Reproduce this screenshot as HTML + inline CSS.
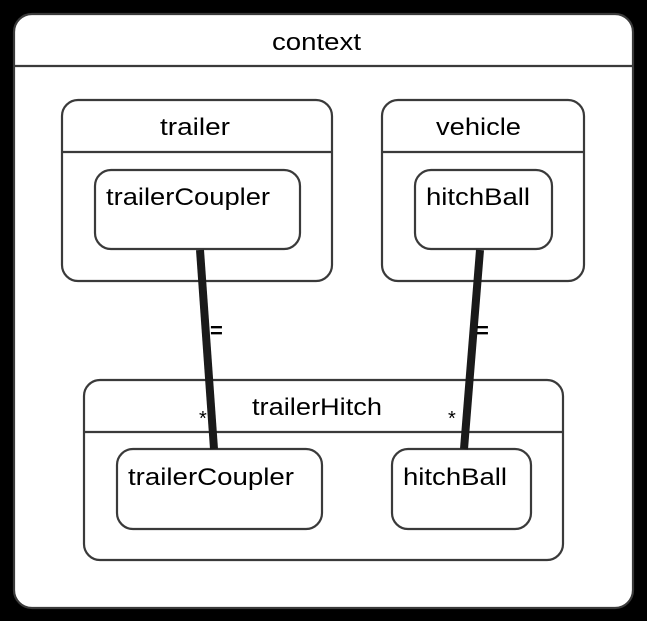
<!DOCTYPE html>
<html><head><meta charset="utf-8"><style>
html,body{margin:0;padding:0;background:#000;}
svg{display:block;}
text{font-family:"Liberation Sans",Arial,sans-serif;fill:#000;}
</style></head><body>
<svg width="647" height="621" viewBox="0 0 647 621" xmlns="http://www.w3.org/2000/svg">
<rect x="0" y="0" width="647" height="621" fill="#000"/>
<g fill="#fff" stroke="#3a3a3a" stroke-width="2.2">
<rect x="14" y="14" width="619" height="594" rx="18"/>
<line x1="14" y1="66" x2="633" y2="66"/>
<rect x="62" y="100" width="270" height="181" rx="16"/>
<line x1="62" y1="152" x2="332" y2="152"/>
<rect x="95" y="170" width="205" height="79" rx="16"/>
<rect x="382" y="100" width="202" height="181" rx="16"/>
<line x1="382" y1="152" x2="584" y2="152"/>
<rect x="415" y="170" width="137" height="79" rx="16"/>
<rect x="84" y="380" width="479" height="180" rx="16"/>
<line x1="84" y1="432" x2="563" y2="432"/>
<rect x="117" y="449" width="205" height="80" rx="16"/>
<rect x="392" y="449" width="139" height="80" rx="16"/>
</g>
<g stroke="#1a1a1a" stroke-width="8">
<line x1="200" y1="250" x2="214" y2="449"/>
<line x1="480" y1="250" x2="464" y2="449"/>
</g>
<g font-size="24" lengthAdjust="spacingAndGlyphs">
<text x="272" y="50" textLength="89" lengthAdjust="spacingAndGlyphs">context</text>
<text x="160" y="135" textLength="70" lengthAdjust="spacingAndGlyphs">trailer</text>
<text x="436" y="135" textLength="85" lengthAdjust="spacingAndGlyphs">vehicle</text>
<text x="252" y="415" textLength="130" lengthAdjust="spacingAndGlyphs">trailerHitch</text>
<text x="106" y="205" textLength="164" lengthAdjust="spacingAndGlyphs">trailerCoupler</text>
<text x="426" y="205" textLength="104" lengthAdjust="spacingAndGlyphs">hitchBall</text>
<text x="128" y="485" textLength="166" lengthAdjust="spacingAndGlyphs">trailerCoupler</text>
<text x="403" y="485" textLength="104" lengthAdjust="spacingAndGlyphs">hitchBall</text>
</g>
<g font-size="22" font-weight="bold">
<text x="210" y="338">=</text>
<text x="476" y="338">=</text>
</g>
<g font-size="20">
<text x="199" y="425">*</text>
<text x="448" y="425">*</text>
</g>
</svg>
</body></html>
